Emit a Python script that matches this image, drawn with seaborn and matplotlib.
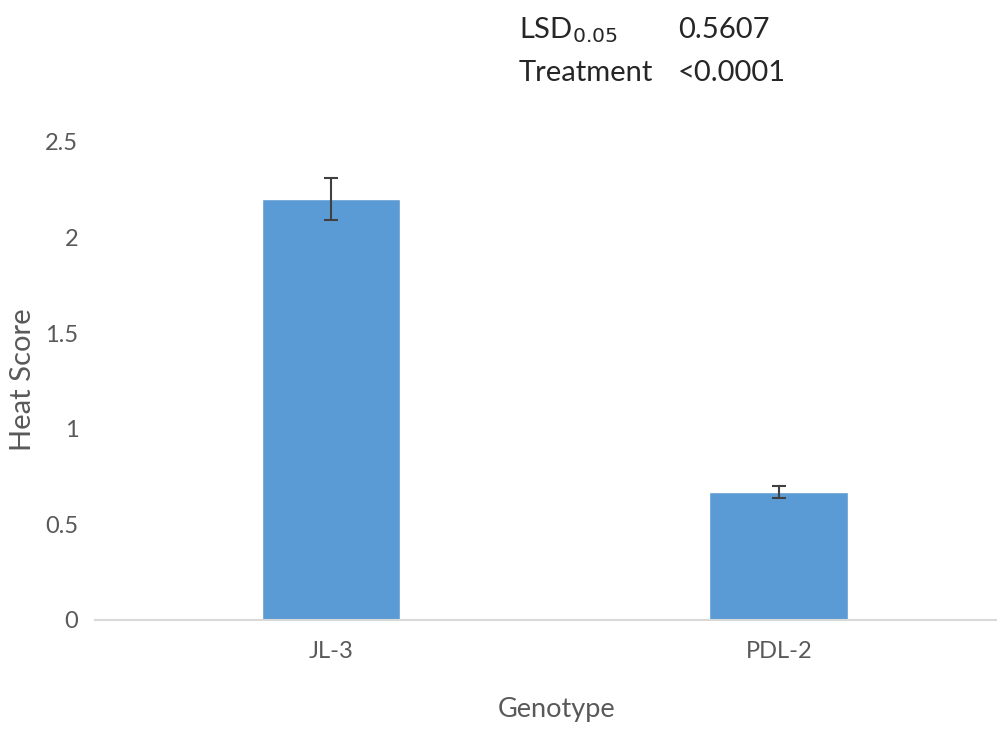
import matplotlib
matplotlib.use("Agg")
import matplotlib.pyplot as plt
import seaborn as sns
import pandas as pd

# Heat score per genotype (mean and standard error)
genotypes = ["JL-3", "PDL-2"]
heat_score = [2.20, 0.67]
std_err = [0.11, 0.033]

stat_labels = ["LSD$_{0.05}$", "Treatment"]
stat_values = ["0.5607", "<0.0001"]

sns.set_theme(style="white")
plt.rcParams["font.family"] = ["Lato", "DejaVu Sans"]

text_gray = "#595959"
bar_blue = "#5B9BD5"

fig = plt.figure(figsize=(9.97, 7.29), dpi=100)
ax = fig.add_axes([95 / 997, 1 - 620 / 729, 902 / 997, 478 / 729])

df = pd.DataFrame({"Genotype": genotypes, "Heat Score": heat_score})
sns.barplot(data=df, x="Genotype", y="Heat Score", color=bar_blue,
            width=0.31, errorbar=None, saturation=1, ax=ax)
ax.errorbar(range(len(genotypes)), heat_score, yerr=std_err, fmt="none",
            ecolor="#404040", elinewidth=1.5, capsize=5, capthick=1.5)

ax.set_ylim(0, 2.5)
ax.set_xlim(-0.527, 1.487)
ax.set_yticks([0, 0.5, 1, 1.5, 2, 2.5])
ax.set_yticklabels(["0", "0.5", "1", "1.5", "2", "2.5"])

for side in ["top", "right", "left"]:
    ax.spines[side].set_visible(False)
ax.spines["bottom"].set_color("#D9D9D9")
ax.spines["bottom"].set_linewidth(1.5)

ax.tick_params(axis="both", length=0, labelsize=17, labelcolor=text_gray)
ax.tick_params(axis="y", pad=12)
ax.tick_params(axis="x", pad=15)

ax.set_xlabel("Genotype", fontsize=19.5, color=text_gray, va="center")
ax.set_ylabel("Heat Score", fontsize=21, color=text_gray, va="center")
ax.xaxis.set_label_coords((557 - 95) / 902, (620 - 710) / 478)
ax.yaxis.set_label_coords((23 - 95) / 902, (620 - 380) / 478)

# Statistics table above the plot
for i, (lab, val) in enumerate(zip(stat_labels, stat_values)):
    y = 1 - (30 + 43 * i) / 729
    fig.text(519 / 997, y, lab, fontsize=21, color="#262626", va="center", ha="left")
    fig.text(678 / 997, y, val, fontsize=21, color="#262626", va="center", ha="left")

fig.savefig("out.png", dpi=100, facecolor="white")
